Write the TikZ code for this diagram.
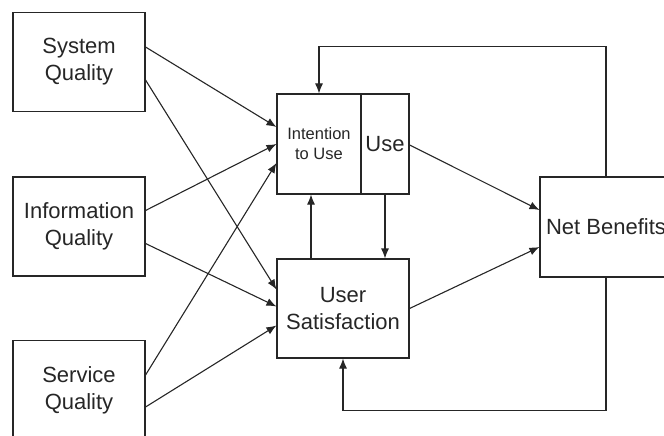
\documentclass[tikz,border=0pt]{standalone}
\usepackage{fontspec}
\setmainfont{Liberation Sans}
\usepackage{tikz}
\usetikzlibrary{arrows,arrows.meta}
\tikzset{>={Latex[length=10pt,width=8pt]}}
\usetikzlibrary{shapes,positioning}
\tikzset{box/.style={draw, rectangle, align=center, inner sep=2pt,
    minimum width=132pt, minimum height=99pt,
    font=\fontsize{22}{27}\selectfont},
  link/.style={->, line width=1.1pt}}

\begin{document}
\begin{tikzpicture}[x=1pt,y=-1pt,color=black!85,line width=1.1pt]

  \useasboundingbox (0,0) rectangle (664,436);

  \node [box] (sq) at (79,62) {System\\Quality};
  \node [box] (iq) at (79,226.5) {Information\\Quality};
  \node [box] (svq) at (79,390) {Service\\Quality};

  \node [box, minimum width=84pt, minimum height=100pt,
    font=\fontsize{16.5}{20}\selectfont] (itu) at (319,144) {Intention\\to Use};
  \node [box, minimum width=48pt, minimum height=100pt, inner sep=0pt,
    right=-1.1pt of itu] (use) {Use};
  \node [box] (us) at (343,308.5) {User\\Satisfaction};
  \node [box, minimum height=100pt] (nb) at (606,227) {Net Benefits};

  % quality to intention / satisfaction
  \draw [link] ([yshift=15]sq.east) -- ([yshift=17]itu.west);
  \draw [link] ([yshift=-18]sq.east) -- ([yshift=19]us.west);
  \draw [link] ([yshift=16]iq.east) -- ([yshift=0]itu.west);
  \draw [link] ([yshift=-17]iq.east) -- ([yshift=2]us.west);
  \draw [link] ([yshift=15]svq.east) -- ([yshift=-19]itu.west);
  \draw [link] ([yshift=-17]svq.east) -- ([yshift=-17]us.west);

  % middle
  \draw [link] ([xshift=-32]us.north) -- ([xshift=-32]us.north |- itu.south);
  \draw [link] (use.south) -- (use.south |- us.north);
  \draw [link] ([yshift=-1]use.east) -- ([yshift=17]nb.west);
  \draw [link] ([yshift=0]us.east) -- ([yshift=-20]nb.west);

  % feedback
  \draw [link] (nb.north) -- ++(0,-130) -| (itu.north);
  \draw [link] (nb.south) -- ++(0,133) -| (us.south);

\end{tikzpicture}
\end{document}
